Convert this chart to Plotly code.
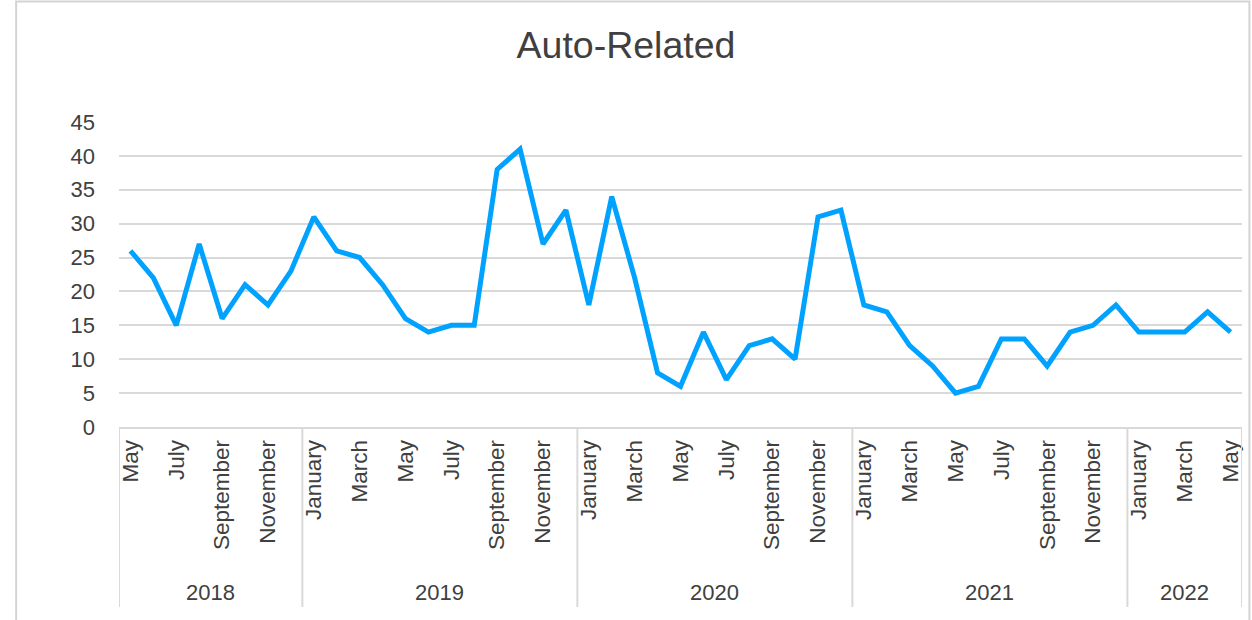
import plotly.graph_objects as go

# Monthly counts, May 2018 – May 2022
years = [2018] * 8 + [2019] * 12 + [2020] * 12 + [2021] * 12 + [2022] * 5
months = (
    ["May", "June", "July", "August", "September", "October", "November", "December"]
    + ["January", "February", "March", "April", "May", "June", "July", "August",
       "September", "October", "November", "December"] * 3
    + ["January", "February", "March", "April", "May"]
)
values = [
    26, 22, 15, 27, 16, 21, 18, 23,
    31, 26, 25, 21, 16, 14, 15, 15, 38, 41, 27, 32,
    18, 34, 22, 8, 6, 14, 7, 12, 13, 10, 31, 32,
    18, 17, 12, 9, 5, 6, 13, 13, 9, 14, 15, 18,
    14, 14, 14, 17, 14,
]
y_ticks = [0, 5, 10, 15, 20, 25, 30, 35, 40, 45]

FONT = "Liberation Sans, Arial, Helvetica, sans-serif"
TEXT = "#404040"
GRID = "#d9d9d9"

x = list(range(len(values)))

fig = go.Figure(
    go.Scatter(
        x=x,
        y=values,
        mode="lines",
        line=dict(color="#00A2FF", width=5),
        hoverinfo="skip",
    )
)

# year groups: first / last index of each year
groups = []
for i, yr in enumerate(years):
    if not groups or groups[-1][0] != yr:
        groups.append([yr, i, i])
    else:
        groups[-1][2] = i

shapes = []
annotations = []
BOTTOM = -0.59   # lower end of the category dividers (paper units)
for yr, i0, i1 in groups:
    annotations.append(dict(
        x=(i0 + i1) / 2, y=-0.544, xref="x", yref="paper",
        text=str(yr), showarrow=False, yanchor="middle", xanchor="center",
        font=dict(family=FONT, size=22, color=TEXT),
    ))
    shapes.append(dict(type="line", xref="x", yref="paper",
                       x0=i0 - 0.5, x1=i0 - 0.5, y0=0, y1=BOTTOM,
                       line=dict(color=GRID, width=2)))
shapes.append(dict(type="line", xref="x", yref="paper",
                   x0=len(values) - 0.5, x1=len(values) - 0.5, y0=0, y1=BOTTOM,
                   line=dict(color=GRID, width=2)))

# chart-area frame (open at the bottom edge of the page)
shapes.append(dict(type="path", xref="paper", yref="paper",
                   path="M -0.0916,-0.75 L -0.0916,1.395 L 1.0066,1.395 L 1.0066,-0.75",
                   line=dict(color="#d4d4d4", width=2)))

fig.update_layout(
    width=1252,
    height=620,
    autosize=False,
    margin=dict(l=119, r=10, t=122, b=193, pad=0),
    paper_bgcolor="white",
    plot_bgcolor="white",
    showlegend=False,
    title=dict(
        text="Auto-Related",
        x=0.5, xanchor="center",
        y=1 - 45 / 620, yanchor="middle", yref="container",
        font=dict(family=FONT, size=37.5, color=TEXT),
    ),
    xaxis=dict(
        range=[-0.5, len(values) - 0.5],
        tickmode="array",
        tickvals=x[::2],
        ticktext=months[::2],
        tickangle=-90,
        ticks="",
        showgrid=False,
        zeroline=False,
        showline=True,
        linecolor=GRID,
        linewidth=2,
        ticklabelstandoff=2,
        tickfont=dict(family=FONT, size=22.5, color=TEXT),
        automargin=False,
        fixedrange=True,
    ),
    yaxis=dict(
        range=[0, 45],
        tickmode="array",
        tickvals=y_ticks,
        ticks="",
        showgrid=True,
        gridcolor=GRID,
        gridwidth=2,
        zeroline=False,
        showline=False,
        ticklabelstandoff=23,
        tickfont=dict(family=FONT, size=22, color=TEXT),
        automargin=False,
        fixedrange=True,
    ),
    shapes=shapes,
    annotations=annotations,
)

fig.write_html("out.html")
